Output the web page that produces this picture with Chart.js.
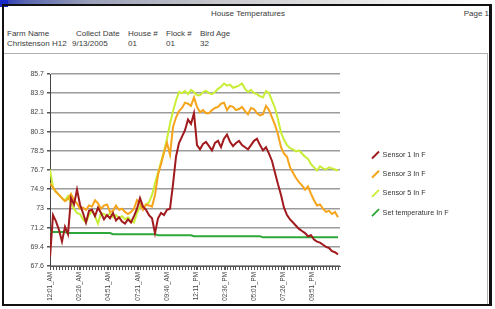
<!DOCTYPE html>
<html>
<head>
<meta charset="utf-8">
<script src="https://cdn.jsdelivr.net/npm/chart.js@4"></script>
<style>
  html,body{margin:0;padding:0;}
  body{width:495px;height:309px;position:relative;overflow:hidden;background:#fff;
       font-family:"Liberation Sans",Arial,sans-serif;color:#333;}
  .t{position:absolute;font-size:8px;line-height:9px;white-space:nowrap;color:#3a3a3a;}
</style>
</head>
<body>
<div style="position:absolute;left:0;top:0;width:495px;height:5px;background:linear-gradient(to right,#2233bb 0px,#5a66b0 25px,#9aa0b8 90px,#c8c8cc 220px,#ececec 380px,#ffffff 480px);"></div>
<div style="position:absolute;left:0;top:0;width:8px;height:7px;background:#1a2ac8;"></div>
<div style="position:absolute;left:2px;top:4px;width:485px;height:298px;border:2px solid #111;border-right-width:3px;"></div>
<div style="position:absolute;left:4px;top:53px;width:483px;height:1px;background:#b0b0b0;"></div>
<div style="position:absolute;left:487px;top:53px;width:1px;height:251px;background:#b0b0b0;"></div>

<div class="t" style="left:210px;top:9px;width:76px;text-align:center;">House Temperatures</div>
<div class="t" style="right:6px;top:9px;">Page 1</div>
<div class="t" style="left:7px;top:29px;">Farm Name</div>
<div class="t" style="left:7px;top:39px;">Christenson H12</div>
<div class="t" style="left:76px;top:29px;">Collect Date</div>
<div class="t" style="left:72px;top:39px;">9/13/2005</div>
<div class="t" style="left:128px;top:29px;">House #</div>
<div class="t" style="left:128px;top:39px;">01</div>
<div class="t" style="left:166px;top:29px;">Flock #</div>
<div class="t" style="left:166px;top:39px;">01</div>
<div class="t" style="left:200px;top:29px;">Bird Age</div>
<div class="t" style="left:200px;top:39px;">32</div>

<div style="position:absolute;left:5px;top:55px;width:482px;height:254px;">
  <canvas id="c" width="482" height="254"></canvas>
</div>

<script>
// ---- data ----
const seriesNames = ["Sensor 1 In F", "Sensor 3 In F", "Sensor 5 In F", "Set temperature In F"];

// sample times, minutes after midnight
const sampleMinutes = [0,15,30,45,60,75,90,105,120,135,150,165,180,195,210,225,240,255,270,285,
  300,315,330,345,360,375,390,405,420,435,450,465,480,495,510,525,540,555,570,585,
  600,615,630,645,660,675,690,705,720,735,750,765,780,795,810,825,840,855,870,885,
  900,915,930,945,960,975,990,1005,1020,1035,1050,1065,1080,1095,1110,1125,1140,1155,1170,1185,
  1200,1215,1230,1245,1260,1275,1290,1305,1320,1335,1350,1365,1380,1395,1410,1425,1440];

const sensor1 = [68.4,72.4,71.8,71.0,69.9,71.3,70.6,74.0,73.4,74.8,
  73.4,72.6,71.7,72.8,72.9,72.3,73.1,72.6,72.0,72.4,
  72.1,72.6,71.9,72.2,71.8,71.6,72.0,71.7,72.3,73.0,
  74.0,73.2,72.9,72.4,72.1,70.7,72.1,72.6,72.4,72.9,
  73.0,75.3,77.9,79.2,79.8,80.4,81.4,81.0,82.0,79.0,
  78.6,79.1,79.3,78.9,78.5,79.2,79.4,78.8,79.6,80.0,
  79.3,78.9,79.2,79.4,79.0,78.8,78.6,79.0,79.4,79.6,
  79.0,78.5,78.8,78.2,77.5,76.4,75.3,74.3,73.1,72.4,
  72.0,71.7,71.4,71.1,70.9,70.7,70.4,70.5,70.1,69.9,
  69.8,69.6,69.4,69.3,69.0,68.9,68.7];

const sensor3 = [75.4,75.0,74.6,74.3,74.0,73.7,73.9,74.4,73.8,73.5,
  73.0,73.1,72.9,73.3,73.2,73.8,73.5,73.0,73.3,73.4,
  72.7,72.8,73.3,72.9,73.0,72.7,72.5,72.7,73.0,73.8,
  73.5,72.9,73.4,73.3,73.2,74.3,76.2,77.2,78.3,79.2,
  78.1,80.7,81.6,82.2,82.5,83.0,82.9,82.7,83.5,82.6,
  82.1,82.3,82.0,82.0,82.3,82.5,82.6,82.9,83.0,82.3,
  82.7,82.6,82.3,82.4,82.6,82.2,81.9,82.5,82.4,82.0,
  81.8,81.9,82.7,82.3,81.6,80.9,80.0,78.8,78.2,77.9,
  76.9,76.4,75.9,75.5,75.2,74.8,75.1,74.4,73.8,73.3,
  73.4,73.0,72.7,72.8,72.5,72.7,72.2];

const sensor5 = [76.7,75.0,74.6,74.3,74.0,73.8,74.2,73.5,73.0,72.6,
  72.5,72.0,71.7,72.4,72.8,72.3,71.6,72.6,72.5,72.3,
  72.6,72.2,72.4,72.1,72.3,72.0,72.2,71.9,71.7,72.6,
  73.2,73.0,73.4,73.6,74.3,75.4,76.4,77.4,78.4,79.6,
  81.0,82.2,83.2,84.0,83.9,84.1,83.8,84.2,84.0,83.7,
  83.7,84.0,84.1,83.9,83.8,84.0,84.3,84.5,84.8,84.6,
  84.7,84.4,84.5,84.6,84.8,84.3,84.0,84.2,83.9,83.8,
  83.6,83.5,84.1,83.9,83.2,82.5,81.4,80.2,79.5,79.0,
  78.7,78.6,78.4,78.5,78.2,77.9,77.7,77.2,76.9,76.6,
  77.0,76.8,76.7,76.9,76.8,76.7,76.6];

const setTemp = [70.8,70.8,70.8,70.8,70.8,70.8,70.7,70.7,70.7,70.7,
  70.7,70.7,70.7,70.7,70.7,70.7,70.7,70.7,70.7,70.7,
  70.7,70.6,70.6,70.6,70.6,70.6,70.6,70.6,70.6,70.6,
  70.6,70.6,70.6,70.6,70.6,70.6,70.5,70.5,70.5,70.5,
  70.5,70.5,70.5,70.5,70.5,70.5,70.5,70.5,70.4,70.4,
  70.4,70.4,70.4,70.4,70.4,70.4,70.4,70.4,70.4,70.4,
  70.4,70.4,70.4,70.4,70.4,70.4,70.4,70.4,70.4,70.4,
  70.4,70.3,70.3,70.3,70.3,70.3,70.3,70.3,70.3,70.3,
  70.3,70.3,70.3,70.3,70.3,70.3,70.3,70.3,70.3,70.3,
  70.3,70.3,70.3,70.3,70.3,70.3,70.3];

// axis labels
const timeLabels = ["12:01_AM","02:26_AM","04:51_AM","07:21_AM","09:46_AM","12:11_PM","02:36_PM","05:01_PM","07:26_PM","09:51_PM"];
const labelMinutes = [1,146,291,441,586,731,876,1021,1166,1311];
const yTickLabels = ["67.6","69.4","71.2","73","74.9","76.7","78.5","80.3","82.1","83.9","85.7"];
const yMin = 67.6, yMax = 85.7, xMin = 0, xMax = 1450;

// ---- chart ----
const FONT = "'Liberation Sans', Arial, sans-serif";
const colors = ["#a11a1e", "#f5a41c", "#c8ee36", "#2ea838"];
const values = [sensor1, sensor3, sensor5, setTemp];
const LEGEND_W = 127;
const LEGEND_RAISE = 10.4;

const datasets = seriesNames.map((name, k) => ({
  label: name,
  data: values[k].map((v, i) => ({x: sampleMinutes[i], y: v})),
  borderColor: colors[k],
  backgroundColor: colors[k],
  borderWidth: 2,
  pointRadius: 0,
  pointHoverRadius: 0,
  pointStyle: 'line',
  pointRotation: -45,
  tension: 0,
  fill: false
}));

// keep the legend box at a fixed width / vertical span so it sits where the reference has it
const fixedLegend = {
  id: 'fixedLegend',
  beforeLayout(chart) {
    const lg = chart.legend;
    if (lg && !lg._fixedW) {
      const fit = lg.fit.bind(lg);
      lg.fit = function () { fit(); this.width = LEGEND_W; };
      lg._fixedW = true;
    }
  },
  afterLayout(chart) {
    const lg = chart.legend;
    if (lg) { lg.bottom -= LEGEND_RAISE; lg.height -= LEGEND_RAISE; }
  }
};

new Chart(document.getElementById('c'), {
  type: 'line',
  data: { datasets },
  plugins: [fixedLegend],
  options: {
    responsive: false,
    animation: false,
    devicePixelRatio: 1,
    layout: { padding: { left: 0, top: 19, right: 0, bottom: 5 } },
    plugins: {
      title: { display: false },
      tooltip: { enabled: false },
      legend: {
        position: 'right',
        align: 'center',
        labels: {
          usePointStyle: true,
          boxWidth: 7, boxHeight: 7,
          padding: 12,
          color: '#333',
          font: { family: FONT, size: 7.2 }
        }
      }
    },
    scales: {
      x: {
        type: 'linear', min: xMin, max: xMax,
        afterBuildTicks: s => {
          const set = new Set(sampleMinutes.concat(labelMinutes));
          s.ticks = [...set].sort((a, b) => a - b).map(value => ({ value }));
        },
        afterFit: s => { s.height = 38; },
        ticks: {
          autoSkip: false, minRotation: 90, maxRotation: 90, padding: 2,
          color: '#444', font: { family: FONT, size: 6.3 },
          callback: v => { const k = labelMinutes.indexOf(v); return k >= 0 ? timeLabels[k] : ''; }
        },
        grid: { drawOnChartArea: false, drawTicks: true, tickLength: 4, color: '#555', lineWidth: 1 },
        border: { display: true, color: '#555', width: 1 }
      },
      y: {
        type: 'linear', min: yMin, max: yMax,
        afterBuildTicks: s => {
          s.ticks = yTickLabels.map((t, i) => ({ value: yMin + i * (yMax - yMin) / (yTickLabels.length - 1) }));
        },
        afterFit: s => { s.width = 45; },
        ticks: {
          autoSkip: false, padding: 3, color: '#444', font: { family: FONT, size: 7 },
          callback: (v, i) => yTickLabels[i]
        },
        grid: { color: '#9c9c9c', lineWidth: 1.5, tickLength: 3, tickColor: '#555' },
        border: { display: true, color: '#444', width: 1 }
      },
      gap: {
        type: 'linear', position: 'right', display: true, min: 0, max: 1,
        grid: { display: false }, ticks: { display: false }, border: { display: false },
        afterFit: s => { s.width = 20; }
      }
    }
  }
});
</script>
</body>
</html>
